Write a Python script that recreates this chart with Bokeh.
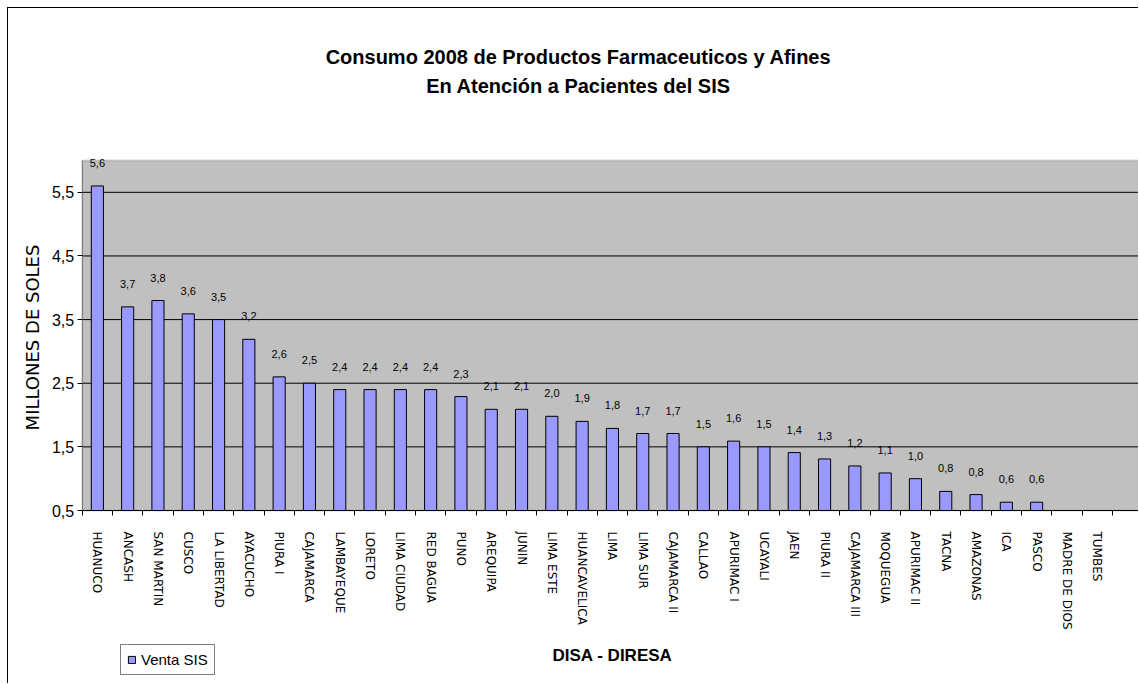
import math
from bokeh.plotting import figure
from bokeh.models import (Range1d, FixedTicker, ColumnDataSource, Legend,
                          LegendItem, Label, BoxAnnotation)
from bokeh.embed import file_html
from bokeh.resources import INLINE
from bokeh.core.properties import value

# ---------------- data ----------------
categories = ["HUANUCO", "ANCASH", "SAN MARTIN", "CUSCO", "LA LIBERTAD", "AYACUCHO",
              "PIURA I", "CAJAMARCA", "LAMBAYEQUE", "LORETO", "LIMA CIUDAD", "RED BAGUA",
              "PUNO", "AREQUIPA", "JUNIN", "LIMA ESTE", "HUANCAVELICA", "LIMA", "LIMA SUR",
              "CAJAMARCA II", "CALLAO", "APURIMAC I", "UCAYALI", "JAEN", "PIURA II",
              "CAJAMARCA III", "MOQUEGUA", "APURIMAC II", "TACNA", "AMAZONAS", "ICA",
              "PASCO", "MADRE DE DIOS", "TUMBES"]
venta_sis = [5.60, 3.70, 3.80, 3.59, 3.50, 3.19, 2.60, 2.50, 2.40, 2.40, 2.40, 2.40,
             2.29, 2.09, 2.09, 1.98, 1.90, 1.79, 1.71, 1.71, 1.50, 1.59, 1.50, 1.41,
             1.31, 1.20, 1.09, 1.00, 0.80, 0.75, 0.63, 0.63, None, None]
y_ticks = [0.5, 1.5, 2.5, 3.5, 4.5, 5.5]
y_tick_labels = ["0,5", "1,5", "2,5", "3,5", "4,5", "5,5"]
y_axis_min, y_axis_max = 0.5, 6.0
series_name = "Venta SIS"
title_lines = ["Consumo 2008 de Productos Farmaceuticos y Afines",
               "En Atención a Pacientes del SIS"]
x_title = "DISA - DIRESA"
y_title = "MILLONES DE SOLES"

SANS = "Liberation Sans"

# ---------------- layout (canvas pixels) ----------------
W, H = 1131, 676
plot_left, plot_top, plot_bottom = 73.7, 152.0, 502.0
cat_px = 30.3
y_px = (plot_bottom - plot_top) / (y_axis_max - y_axis_min)
x_start = -plot_left / cat_px
x_end = (W - plot_left) / cat_px
y_top = y_axis_max + plot_top / y_px
y_bot = y_axis_min - (H - plot_bottom) / y_px

centers = [i + 0.5 for i in range(len(categories))]
bx, btop, blab = [], [], []
for c, v in zip(centers, venta_sis):
    if v is not None:
        bx.append(c)
        btop.append(v)
        blab.append(f"{v:.1f}".replace(".", ","))
src = ColumnDataSource(dict(x=bx, top=btop, label=blab))

p = figure(width=W, height=H, output_backend="svg", toolbar_location=None,
           x_range=Range1d(x_start, x_end), y_range=Range1d(y_bot, y_top),
           min_border=0, min_border_left=0, min_border_right=0,
           min_border_top=0, min_border_bottom=0,
           styles={"border-left": "1px solid black", "border-top": "1px solid black",
                   "margin-left": "7px", "margin-top": "7px"})
p.background_fill_color = "white"
p.border_fill_color = "white"
p.outline_line_color = None
p.xgrid.visible = False
p.ygrid.visible = False

# plot area (gray) with its top border
p.add_layout(BoxAnnotation(left=0, right=x_end + 2, bottom=y_axis_min, top=y_axis_max,
                           fill_color="#C0C0C0", fill_alpha=1,
                           line_color="#808080", line_width=2, level="underlay"))

# horizontal gridlines
gy = y_ticks[1:]
p.segment(x0=[0] * len(gy), x1=[x_end + 2] * len(gy), y0=gy, y1=gy,
          line_color="black", line_width=1)

# x axis
xa = p.xaxis[0]
xa.fixed_location = y_axis_min
xa.bounds = (0, x_end + 2)
xa.ticker = FixedTicker(ticks=centers, minor_ticks=list(range(len(categories) + 1)))
xa.major_label_overrides = {c: n for c, n in zip(centers, categories)}
xa.major_label_orientation = "vertical"
xa.major_tick_out = 0
xa.major_tick_in = 0
xa.minor_tick_out = 5
xa.minor_tick_in = 0
xa.minor_tick_line_color = "black"
xa.axis_line_color = "black"
xa.major_label_text_font = "DejaVu Sans"
xa.major_label_text_font_size = "12px"
xa.major_label_text_color = "black"
xa.major_label_standoff = 16

# y axis
ya = p.yaxis[0]
ya.fixed_location = 0
ya.bounds = (y_axis_min, y_axis_max)
ya.ticker = FixedTicker(ticks=y_ticks)
ya.major_label_overrides = {t: l for t, l in zip(y_ticks, y_tick_labels)}
ya.major_tick_out = 5
ya.major_tick_in = 0
ya.minor_tick_line_color = None
ya.major_tick_line_color = "black"
ya.axis_line_color = "#808080"
ya.major_label_text_font = SANS
ya.major_label_text_font_size = "16px"
ya.major_label_text_color = "black"
ya.major_label_standoff = 3

bars = p.vbar(x="x", top="top", bottom=y_axis_min, width=0.4, source=src,
              fill_color="#9999FF", line_color="black", line_width=1)
p.text(x="x", y="top", text="label", source=src, text_align="center",
       text_baseline="middle", y_offset=-23, text_font=value(SANS),
       text_font_size="11px", text_color="black")

# texts (screen units measured from the bottom-left of the canvas)
p.add_layout(Label(x=570, y=H - 48, x_units="screen", y_units="screen",
                   text=title_lines[0], text_align="center", text_baseline="alphabetic",
                   text_font=SANS, text_font_size="20px", text_font_style="bold",
                   text_color="black"))
p.add_layout(Label(x=570, y=H - 77, x_units="screen", y_units="screen",
                   text=title_lines[1], text_align="center", text_baseline="alphabetic",
                   text_font=SANS, text_font_size="20px", text_font_style="bold",
                   text_color="black"))
p.add_layout(Label(x=604, y=H - 647, x_units="screen", y_units="screen",
                   text=x_title, text_align="center", text_baseline="alphabetic",
                   text_font=SANS, text_font_size="17px", text_font_style="bold",
                   text_color="black"))
p.add_layout(Label(x=24, y=H - 329, x_units="screen", y_units="screen",
                   text=y_title, angle=math.pi / 2, text_align="center",
                   text_baseline="middle", text_font="DejaVu Sans",
                   text_font_size="18px", text_color="black"))

legend = Legend(items=[LegendItem(label=series_name, renderers=[bars])],
                location=(112, H - 667), orientation="vertical",
                border_line_color="black", border_line_width=1,
                background_fill_color="white", background_fill_alpha=1,
                label_text_font=SANS, label_text_font_size="15px",
                label_text_color="black", glyph_width=9, glyph_height=9,
                label_standoff=5, padding=6, spacing=0, margin=0,
                label_height=17)
p.add_layout(legend, "center")

open("out.html", "w").write(file_html(p, INLINE))
